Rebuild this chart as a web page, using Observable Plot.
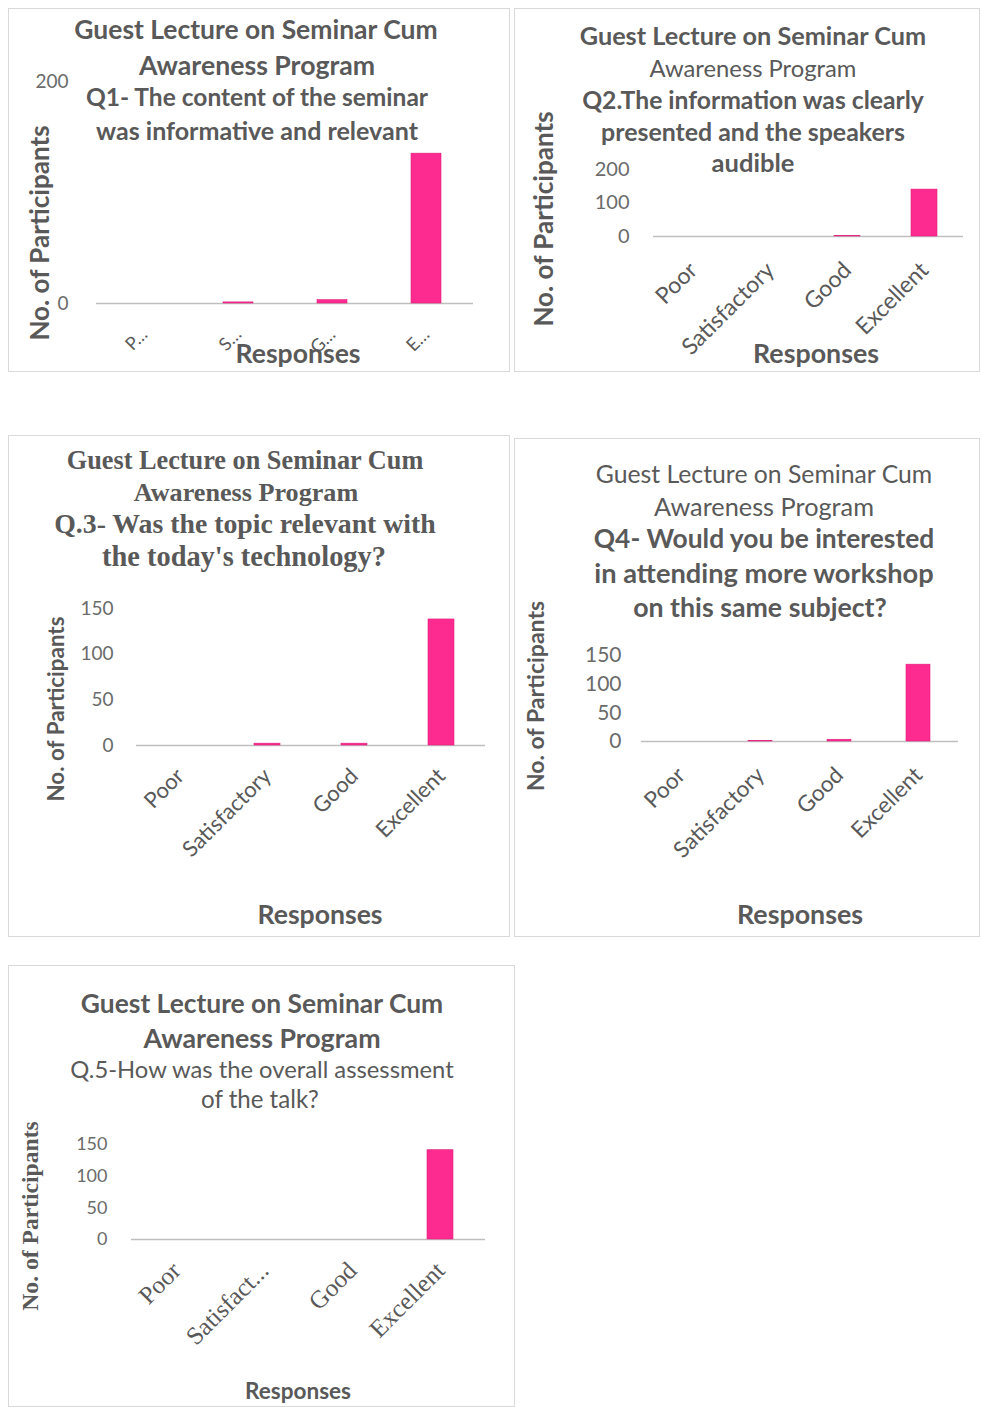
<!DOCTYPE html>
<html>
<head>
<meta charset="utf-8">
<script src="https://cdn.jsdelivr.net/npm/d3@7"></script>
<script src="https://cdn.jsdelivr.net/npm/@observablehq/plot@0.6"></script>
<style>
  body { margin: 0; background: #fff; }
  #page { position: relative; width: 982px; height: 1407px; overflow: hidden; background: #fff; }
  .panel { position: absolute; border: 1.5px solid #d9d9d9; box-sizing: border-box; background: #fff; }
  .panel svg { position: absolute; left: 0; top: 0; }
  .txt { position: absolute; color: #595959; white-space: nowrap; transform: translate(-50%, -50%); line-height: 1; pointer-events: none; }
  .rot { transform: translate(-50%, -50%) rotate(-90deg); }
</style>
</head>
<body>
<div id="page"></div>
<script>
// ---------- data ----------
const categories = ["Poor", "Satisfactory", "Good", "Excellent"];
const q1Values = [0, 1, 3, 135];
const q2Values = [0, 0, 1, 140];
const q3Values = [0, 2, 2, 138];
const q4Values = [0, 1, 3, 134];
const q5Values = [0, 0, 0, 141];

const q1Ticks = [0, 200];
const q2Ticks = [0, 100, 200];
const q3Ticks = [0, 50, 100, 150];
const q4Ticks = [0, 50, 100, 150];
const q5Ticks = [0, 50, 100, 150];

const q1TickLabels = ["P…", "S…", "G…", "E…"];
const fullTickLabels = ["Poor", "Satisfactory", "Good", "Excellent"];
const q5TickLabels = ["Poor", "Satisfact...", "Good", "Excellent"];

const titleLine1 = "Guest Lecture on Seminar Cum";
const titleLine2 = "Awareness Program";
const q1Question = ["Q1- The content of the seminar", "was informative and relevant"];
const q2Question = ["Q2.The information was clearly", "presented and the speakers", "audible"];
const q3Question = ["Q.3- Was the topic relevant with", "the today's technology?"];
const q4Question = ["Q4- Would you be interested", "in attending more workshop", "on this same subject?"];
const q5Question = ["Q.5-How was the overall assessment", "of the talk?"];

const yAxisLabel = "No. of Participants";
const xAxisLabel = "Responses";

// ---------- layout / styles ----------
const SANS = "Lato, 'Open Sans', sans-serif";
const SERIF = "'Liberation Serif', 'DejaVu Serif', serif";
const BAR = "#fd2a8f";

// each text: x, y = centre inside the panel; fit = target width in px
const panels = [
  {
    values: q1Values, ticks: q1Ticks, tickLabels: q1TickLabels,
    box: [8, 8, 502, 364],
    margins: [72, 35, 67, 87], gap: 0.684,
    yTick: {size: 19, pad: 28}, xTick: {size: 18, pad: 28, font: SANS},
    lines: [
      {t: titleLine1, x: 247, y: 20, fit: 364, font: SANS},
      {t: titleLine2, x: 248, y: 56, fit: 236, font: SANS},
      {t: q1Question[0], x: 248, y: 88, fit: 342, font: SANS},
      {t: q1Question[1], x: 248, y: 122, fit: 322, font: SANS}
    ],
    yLabel: {x: 30, y: 224, fit: 215, font: SANS},
    xLabel: {x: 289, y: 344, fit: 125, font: SANS}
  },
  {
    values: q2Values, ticks: q2Ticks, tickLabels: fullTickLabels,
    box: [514, 8, 466, 364],
    margins: [160, 15, 134, 138], gap: 0.667,
    yTick: {size: 20, pad: 24}, xTick: {size: 23, pad: 30, font: SANS},
    lines: [
      {t: titleLine1, x: 238, y: 27, fit: 347, font: SANS},
      {t: titleLine2, x: 238, y: 60, fit: 207, font: SANS, w: 400},
      {t: q2Question[0], x: 238, y: 91, fit: 342, font: SANS},
      {t: q2Question[1], x: 238, y: 122, fit: 304, font: SANS},
      {t: q2Question[2], x: 238, y: 154, fit: 83, font: SANS}
    ],
    yLabel: {x: 28, y: 210, fit: 215, font: SANS},
    xLabel: {x: 301, y: 344, fit: 126, font: SANS}
  },
  {
    values: q3Values, ticks: q3Ticks, tickLabels: fullTickLabels,
    box: [8, 435, 502, 502],
    margins: [172, 23, 190, 127], gap: 0.70,
    yTick: {size: 19, pad: 23}, xTick: {size: 22, pad: 27, font: SANS},
    lines: [
      {t: titleLine1, x: 236, y: 25, fit: 356, font: SERIF},
      {t: titleLine2, x: 237, y: 57, fit: 225, font: SERIF},
      {t: q3Question[0], x: 236, y: 88, fit: 382, font: SERIF},
      {t: q3Question[1], x: 235, y: 121, fit: 284, font: SERIF}
    ],
    yLabel: {x: 47, y: 273, fit: 185, font: SANS},
    xLabel: {x: 311, y: 478, fit: 125, font: SANS}
  },
  {
    values: q4Values, ticks: q4Ticks, tickLabels: fullTickLabels,
    box: [514, 438, 466, 499],
    margins: [216, 20, 194, 126], gap: 0.69,
    yTick: {size: 21, pad: 20}, xTick: {size: 22.5, pad: 30, font: SANS},
    lines: [
      {t: titleLine1, x: 249, y: 35, fit: 337, font: SANS, w: 400},
      {t: titleLine2, x: 249, y: 68, fit: 220, font: SANS, w: 400},
      {t: q4Question[0], x: 249, y: 99, fit: 340, font: SANS},
      {t: q4Question[1], x: 249, y: 134, fit: 339, font: SANS},
      {t: q4Question[2], x: 245, y: 168, fit: 254, font: SANS}
    ],
    yLabel: {x: 21, y: 257, fit: 190, font: SANS},
    xLabel: {x: 285, y: 475, fit: 126, font: SANS}
  },
  {
    values: q5Values, ticks: q5Ticks, tickLabels: q5TickLabels,
    box: [8, 965, 507, 442],
    margins: [178, 28, 166, 122], gap: 0.70,
    yTick: {size: 18, pad: 24}, xTick: {size: 25, pad: 27, font: SERIF},
    lines: [
      {t: titleLine1, x: 253, y: 37, fit: 363, font: SANS},
      {t: titleLine2, x: 253, y: 72, fit: 237, font: SANS},
      {t: q5Question[0], x: 253, y: 104, fit: 383, font: SANS, w: 400},
      {t: q5Question[1], x: 251, y: 133, fit: 118, font: SANS, w: 400}
    ],
    yLabel: {x: 22, y: 250, fit: 190, font: SERIF},
    xLabel: {x: 289, y: 425, fit: 106, font: SANS}
  }
];

const page = document.getElementById("page");

function addText(parent, spec, text, rotate) {
  const d = document.createElement("div");
  d.className = "txt" + (rotate ? " rot" : "");
  d.textContent = text;
  d.style.left = spec.x + "px";
  d.style.top = spec.y + "px";
  d.style.fontSize = "20px";
  d.style.fontFamily = spec.font;
  d.style.fontWeight = spec.w || 700;
  parent.appendChild(d);
  const w = d.offsetWidth;
  if (w > 0 && spec.fit) d.style.fontSize = (20 * spec.fit / w).toFixed(2) + "px";
}

for (const p of panels) {
  const [left, top, w, h] = p.box;
  const div = document.createElement("div");
  div.className = "panel";
  div.style.left = left + "px";
  div.style.top = top + "px";
  div.style.width = w + "px";
  div.style.height = h + "px";
  page.appendChild(div);

  const data = categories.map((c, i) => ({category: c, value: p.values[i]}));
  const labelOf = new Map(categories.map((c, i) => [c, p.tickLabels[i]]));
  const [mt, mr, mb, ml] = p.margins;

  const chart = Plot.plot({
    width: w - 3,
    height: h - 3,
    marginTop: mt, marginRight: mr, marginBottom: mb, marginLeft: ml,
    style: {background: "transparent", color: "#595959", fontFamily: SANS, overflow: "visible"},
    x: {type: "band", domain: categories, paddingInner: p.gap, paddingOuter: p.gap / 2, label: null},
    y: {domain: [0, d3.max(p.ticks)], label: null},
    marks: [
      Plot.axisY({ticks: p.ticks, tickSize: 0, tickPadding: p.yTick.pad, fontSize: p.yTick.size, label: null, fill: "#6b6b6b"}),
      Plot.axisX({tickRotate: -45, tickSize: 0, tickPadding: p.xTick.pad, fontSize: p.xTick.size,
        fontFamily: p.xTick.font, tickFormat: (d) => labelOf.get(d), label: null, fill: "#595959"}),
      Plot.ruleY([0], {stroke: "#bfbfbf", strokeWidth: 1.5}),
      Plot.barY(data, {x: "category", y: "value", fill: BAR, stroke: "#e0207c", strokeWidth: 0.6})
    ]
  });
  div.appendChild(chart);

  for (const l of p.lines) addText(div, l, l.t, false);
  addText(div, p.yLabel, yAxisLabel, true);
  addText(div, p.xLabel, xAxisLabel, false);
}
</script>
</body>
</html>
